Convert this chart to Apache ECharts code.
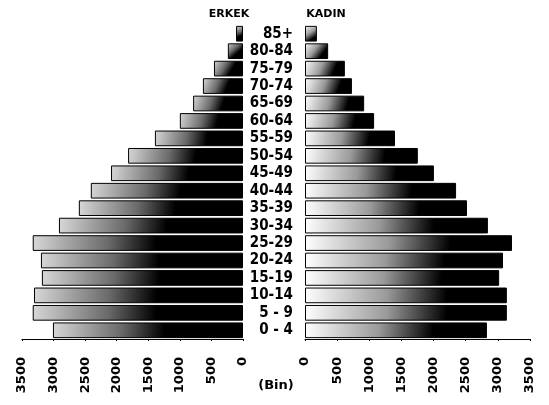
<!DOCTYPE html>
<html>
<head>
<meta charset="utf-8">
<script src="https://cdn.jsdelivr.net/npm/echarts@6/dist/echarts.min.js"></script>
<style>
html, body { margin: 0; padding: 0; background: #fff; }
#main { width: 549px; height: 405px; }
</style>
</head>
<body>
<div id="main"></div>
<script>
// age groups, bottom to top
var ageGroups = ['0 - 4', '5 - 9', '10-14', '15-19', '20-24', '25-29', '30-34', '35-39', '40-44',
    '45-49', '50-54', '55-59', '60-64', '65-69', '70-74', '75-79', '80-84', '85+'];
// ERKEK (bin)
var maleValues = [3010, 3330, 3310, 3185, 3200, 3330, 2915, 2600, 2410, 2090, 1820, 1395, 1000, 790, 635, 460, 240, 110];
// KADIN (bin)
var femaleValues = [2830, 3140, 3140, 3020, 3080, 3220, 2845, 2520, 2350, 2005, 1755, 1400, 1075, 920, 730, 620, 360, 185];
var axisMax = 3500;
var axisStep = 500;

var labelFont = '"DejaVu Sans Condensed", "Liberation Sans Narrow", "DejaVu Sans", sans-serif';
var tickFont = '"DejaVu Sans", sans-serif';

var chart = echarts.init(document.getElementById('main'));

// darker toward the bottom-right, like the scanned print
var maleFill = new echarts.graphic.LinearGradient(0, 0, 0.9, 1, [
    { offset: 0, color: '#d8d8d8' },
    { offset: 0.4, color: '#6a6a6a' },
    { offset: 0.65, color: '#000' },
    { offset: 1, color: '#000' }
]);
var femaleFill = new echarts.graphic.LinearGradient(0, 0, 0.9, 1, [
    { offset: 0, color: '#fff' },
    { offset: 0.45, color: '#9a9a9a' },
    { offset: 0.78, color: '#000' },
    { offset: 1, color: '#000' }
]);

var xLabel = {
    rotate: 90,
    margin: 18,
    color: '#000',
    fontFamily: tickFont,
    fontWeight: 'bold',
    fontSize: 13,
    formatter: function (v) { return String(v); }
};

var option = {
    animation: false,
    backgroundColor: '#fff',
    title: [{
        text: 'ERKEK',
        left: 224,
        top: 4,
        textAlign: 'center',
        textStyle: { fontFamily: tickFont, fontWeight: 'bold', fontSize: 11, color: '#000' }
    }, {
        text: 'KADIN',
        left: 321,
        top: 4,
        textAlign: 'center',
        textStyle: { fontFamily: tickFont, fontWeight: 'bold', fontSize: 11, color: '#000' }
    }, {
        text: '(Bin)',
        left: 271,
        top: 374,
        textAlign: 'center',
        textStyle: { fontFamily: tickFont, fontWeight: 'bold', fontSize: 13, color: '#000' }
    }],
    grid: [
        { left: 22, right: 306, top: 25, bottom: 66 },
        { left: 305, right: 19, top: 25, bottom: 66 }
    ],
    xAxis: [{
        gridIndex: 0,
        type: 'value',
        inverse: true,
        min: 0,
        max: axisMax,
        interval: axisStep,
        splitLine: { show: false },
        axisLine: { show: true, lineStyle: { color: '#000', width: 1 } },
        axisTick: { show: true, length: 2, lineStyle: { color: '#000' } },
        axisLabel: xLabel
    }, {
        gridIndex: 1,
        type: 'value',
        min: 0,
        max: axisMax,
        interval: axisStep,
        splitLine: { show: false },
        axisLine: { show: true, lineStyle: { color: '#000', width: 1 } },
        axisTick: { show: true, length: 2, lineStyle: { color: '#000' } },
        axisLabel: xLabel
    }],
    yAxis: [{
        gridIndex: 0,
        type: 'category',
        data: ageGroups,
        position: 'right',
        axisLine: { show: false },
        axisTick: { show: false },
        axisLabel: { show: false }
    }, {
        gridIndex: 1,
        type: 'category',
        data: ageGroups,
        position: 'left',
        axisLine: { show: false },
        axisTick: { show: false },
        axisLabel: {
            interval: 0,
            margin: 12,
            color: '#000',
            fontFamily: labelFont,
            fontWeight: 'bold',
            fontSize: 15
        }
    }],
    series: [{
        name: 'ERKEK',
        type: 'bar',
        xAxisIndex: 0,
        yAxisIndex: 0,
        data: maleValues,
        barCategoryGap: '10%',
        itemStyle: { color: maleFill, borderColor: '#000', borderWidth: 1 }
    }, {
        name: 'KADIN',
        type: 'bar',
        xAxisIndex: 1,
        yAxisIndex: 1,
        data: femaleValues,
        barCategoryGap: '10%',
        itemStyle: { color: femaleFill, borderColor: '#000', borderWidth: 1 }
    }]
};

chart.setOption(option);
</script>
</body>
</html>
